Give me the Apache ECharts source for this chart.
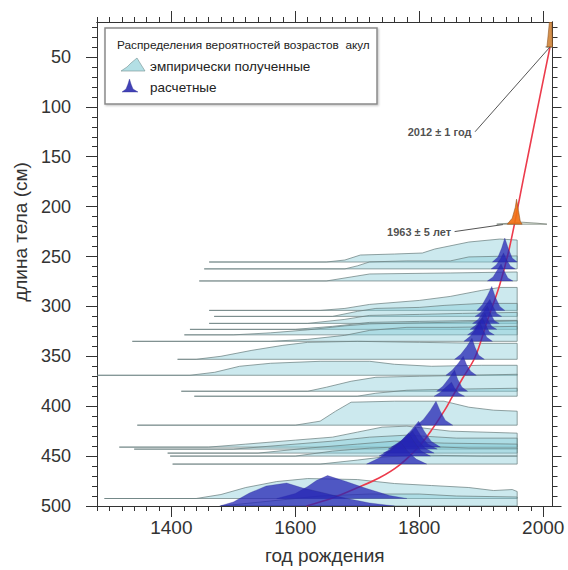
<!DOCTYPE html>
<html><head><meta charset="utf-8">
<script src="https://cdn.jsdelivr.net/npm/echarts@6/dist/echarts.min.js"></script>
<style>html,body{margin:0;padding:0;background:#fff}#c{width:568px;height:570px}</style>
</head><body><div id="c"></div>
<script>
// ---------- data ----------
const xTickLabels = [1400, 1600, 1800, 2000];
const yTickLabels = [50, 100, 150, 200, 250, 300, 350, 400, 450, 500];

const redYears   = [1618, 1660, 1699, 1735, 1768, 1800, 1822, 1840, 1852, 1870, 1890, 1910, 1930, 1946, 1970, 1990, 2011];
const redLengths = [500, 492, 482, 472, 459, 440, 422, 405, 392, 372, 351, 314, 278, 240, 166, 104, 40];

const sharkLengths = [255.5, 262.4, 274.5, 304, 310, 317, 323, 328.5, 335, 353, 369, 385, 390, 419, 441, 443, 447, 450, 458, 492.5, 500];

// empirical distributions: [birth year, height above baseline (cm)]
const empiricalCurves = [
  [[1461,0],[1650,0],[1680,2],[1705,7],[1760,8],[1805,9],[1825,13],[1880,20],[1930,23],[1958,22]],
  [[1453,0],[1680,0],[1700,3],[1720,7],[1780,8],[1850,8],[1880,12],[1958,13]],
  [[1445,0],[1650,0],[1690,4],[1720,7],[1850,8],[1958,9]],
  [[1461,0],[1640,0],[1680,2],[1720,6],[1800,10],[1850,14],[1900,20],[1930,23],[1958,23]],
  [[1469,0],[1660,0],[1700,5],[1730,8],[1800,9],[1840,11],[1900,13],[1958,13]],
  [[1461,0],[1620,0],[1680,4],[1720,8],[1800,9],[1870,10],[1958,11]],
  [[1430,0],[1600,0],[1660,3],[1720,7],[1800,8],[1900,9],[1958,9]],
  [[1421,0],[1500,0],[1560,2],[1620,5],[1680,9],[1720,11],[1800,12],[1880,13],[1958,14]],
  [[1337,0],[1560,0],[1620,2],[1680,6],[1720,11],[1780,14],[1850,14],[1958,15]],
  [[1410,0],[1440,0],[1480,3],[1530,9],[1580,14],[1620,17],[1700,18],[1800,17],[1900,16],[1958,16]],
  [[1280,0],[1430,0],[1470,3],[1510,9],[1560,12],[1640,14],[1720,14],[1760,11],[1820,9],[1900,10],[1958,10]],
  [[1416,0],[1620,0],[1650,4],[1690,10],[1730,14],[1800,15],[1880,16],[1958,17]],
  [[1437,0],[1700,0],[1730,3],[1780,6],[1850,7],[1958,8]],
  [[1345,0],[1600,0],[1640,4],[1665,14],[1690,23],[1760,24],[1840,24],[1880,18],[1920,15],[1958,14]],
  [[1316,0],[1460,0],[1520,3],[1600,7],[1660,10],[1700,15],[1740,20],[1780,21],[1850,16],[1958,14]],
  [[1340,0],[1500,0],[1580,4],[1660,8],[1720,12],[1780,14],[1860,11],[1958,11]],
  [[1394,0],[1540,0],[1620,5],[1700,9],[1760,12],[1840,10],[1958,9]],
  [[1398,0],[1600,0],[1660,5],[1720,8],[1800,10],[1880,8],[1958,8]],
  [[1402,0],[1640,0],[1700,4],[1740,7],[1800,9],[1900,8],[1958,8]],
  [[1292,0],[1440,0],[1480,4],[1520,11],[1570,17],[1620,20],[1700,19],[1760,15],[1820,13],[1880,11],[1920,8],[1950,9],[1958,7]],
  [[1480,0],[1560,5],[1640,10],[1720,12],[1800,12],[1860,10],[1958,9]]
];

// calculated distributions: [birth year, height above baseline (cm)]
const calculatedCurves = [
  [[1918,0],[1927,5],[1933,14],[1938,24],[1944,13],[1950,4],[1958,0]],
  [[1916,0],[1924,4],[1931,10],[1936,16],[1941,9],[1947,3],[1955,0]],
  [[1910,0],[1919,4],[1926,11],[1932,17],[1937,10],[1943,3],[1951,0]],
  [[1893,0],[1902,6],[1910,15],[1917,24],[1923,13],[1930,4],[1938,0]],
  [[1890,0],[1899,4],[1907,11],[1914,17],[1919,10],[1925,3],[1933,0]],
  [[1886,0],[1895,4],[1903,11],[1910,17],[1915,10],[1921,3],[1929,0]],
  [[1882,0],[1891,4],[1899,10],[1906,16],[1911,9],[1917,3],[1925,0]],
  [[1878,0],[1887,4],[1895,11],[1902,17],[1907,10],[1913,3],[1921,0]],
  [[1872,0],[1882,5],[1891,12],[1898,19],[1903,11],[1909,4],[1918,0]],
  [[1857,0],[1867,5],[1877,13],[1885,21],[1890,12],[1896,4],[1905,0]],
  [[1843,0],[1853,5],[1863,12],[1871,19],[1876,11],[1883,4],[1892,0]],
  [[1828,0],[1838,5],[1848,13],[1857,21],[1862,12],[1869,4],[1878,0]],
  [[1824,0],[1834,4],[1843,9],[1852,14],[1857,8],[1864,3],[1873,0]],
  [[1796,0],[1807,6],[1818,15],[1827,24],[1834,14],[1842,5],[1854,0]],
  [[1755,0],[1772,7],[1787,17],[1799,26],[1808,16],[1819,6],[1834,0]],
  [[1750,0],[1767,6],[1782,14],[1794,22],[1803,13],[1814,5],[1829,0]],
  [[1742,0],[1760,6],[1776,14],[1789,22],[1798,13],[1809,5],[1824,0]],
  [[1735,0],[1753,6],[1770,15],[1783,23],[1792,14],[1803,5],[1818,0]],
  [[1715,0],[1735,6],[1755,14],[1770,22],[1781,13],[1795,5],[1812,0]],
  [[1570,0],[1600,5],[1620,12],[1634,18],[1652,23],[1682,17],[1715,10],[1752,3],[1780,0]],
  [[1478,0],[1500,4],[1526,13],[1553,20],[1586,23],[1612,18],[1640,14],[1680,8],[1720,3],[1760,0]]
];

// dated (bomb radiocarbon) sharks
const datedLengths = [217.6, 40];
const datedBaselines = [
  [[1925,0],[1945,1],[1965,2],[1990,1],[2006,0]],
  [[2004,0],[2015,0]]
];
const datedCurves = [
  [[1942,0],[1950,6],[1955,17],[1957,25],[1960,14],[1963,3],[1966,0]],
  [[2006,0],[2008,12],[2010,25],[2014,25],[2015,0]]
];

const annotationTexts = ['2012 ± 1 год', '1963 ± 5 лет'];
const annotation2012 = [[1890, 125], [2011, 40]];
const annotation1963 = [[1857, 225], [1935, 218]];

const legendTitle = 'Распределения вероятностей возрастов  акул';
const legendNames = ['эмпирически полученные', 'расчетные'];
const xName = 'год рождения';
const yName = 'длина тела (см)';

// ---------- chart ----------
const X_MIN = 1280, X_MAX = 2015, Y_MIN = 15, Y_MAX = 500;
const xMinor = []; for (let v = 1280; v <= 2000; v += 20) xMinor.push(v);
const yMinor = []; for (let v = 20; v <= 500; v += 10) yMinor.push(v);
const FONT = '"Liberation Sans", Arial, sans-serif';
const AX = '#333';

function xAxisDef(pos, ticks, len, withLabels) {
  return {
    type: 'value', position: pos, min: X_MIN, max: X_MAX,
    splitLine: {show: false},
    axisLine: {show: true, onZero: false, lineStyle: {color: AX, width: 1}},
    axisTick: {show: true, inside: false, length: len, customValues: ticks, lineStyle: {color: AX, width: 1}},
    axisLabel: withLabels ? {show: true, customValues: xTickLabels, formatter: v => String(v), fontSize: 19, color: '#333', margin: 12, fontFamily: FONT} : {show: false},
    name: withLabels ? xName : '', nameLocation: 'middle', nameGap: 40,
    nameTextStyle: {fontSize: 19, color: '#333', fontFamily: FONT}
  };
}
function yAxisDef(pos, ticks, len, withLabels) {
  return {
    type: 'value', position: pos, min: Y_MIN, max: Y_MAX, inverse: true,
    splitLine: {show: false},
    axisLine: {show: true, onZero: false, lineStyle: {color: AX, width: 1}},
    axisTick: {show: true, inside: false, length: len, customValues: ticks, lineStyle: {color: AX, width: 1}},
    axisLabel: withLabels ? {show: true, customValues: yTickLabels, formatter: v => String(v), fontSize: 18, color: '#333', margin: 26, fontFamily: FONT} : {show: false}
  };
}

function polySeries(L, pts, style, z) {
  return {
    type: 'custom', z: z, silent: true, clip: true,
    xAxisIndex: 0, yAxisIndex: 0,
    data: [[pts[0][0], L]],
    renderItem: function (params, api) {
      const points = pts.map(p => api.coord([p[0], L - p[1]]));
      points.push(api.coord([pts[pts.length - 1][0], L]));
      points.push(api.coord([pts[0][0], L]));
      return {type: 'polygon', shape: {points: points}, style: style};
    }
  };
}

const series = [];
const empStyle = {fill: 'rgba(128,200,212,0.4)', stroke: 'rgba(105,125,125,0.8)', lineWidth: 0.9};
const calcStyle = {fill: 'rgba(38,38,180,0.75)', stroke: 'rgba(40,40,140,0.45)', lineWidth: 0.6};
sharkLengths.forEach((L, i) => series.push(polySeries(L, empiricalCurves[i], empStyle, 2)));
series.push({
  type: 'line', z: 3, silent: true, smooth: 0.35, symbol: 'none',
  data: redYears.map((y, i) => [y, redLengths[i]]),
  lineStyle: {color: '#ec3b4c', width: 1.6}
});
sharkLengths.forEach((L, i) => series.push(polySeries(L, calculatedCurves[i], calcStyle, 4)));
datedLengths.forEach((L, i) => {
  series.push(polySeries(L, datedBaselines[i], {fill: 'rgba(200,220,190,0.4)', stroke: 'rgba(110,120,110,0.8)', lineWidth: 0.9}, 5));
  series.push(polySeries(L, datedCurves[i], {fill: i === 0 ? 'rgba(240,112,20,0.92)' : 'rgba(205,125,45,0.85)', stroke: 'rgba(140,80,30,0.8)', lineWidth: 0.7}, 6));
});
[annotation2012, annotation1963].forEach((pts, i) => {
  series.push({
    type: 'line', z: 7, silent: true, symbol: 'none',
    lineStyle: {color: '#555', width: 1},
    data: pts
  });
  series.push({
    type: 'scatter', z: 8, silent: true, symbol: 'circle', symbolSize: 1,
    itemStyle: {color: 'rgba(0,0,0,0)'},
    data: [pts[0]],
    label: {show: true, position: 'left', distance: 3, formatter: annotationTexts[i], fontSize: 11, fontWeight: 'bold', color: '#222', fontFamily: FONT}
  });
});

const chart = echarts.init(document.getElementById('c'), null, {renderer: 'svg'});
chart.setOption({
  animation: false,
  backgroundColor: '#fff',
  grid: {left: 97, right: 15.5, top: 22, bottom: 62, containLabel: false},
  xAxis: [
    xAxisDef('bottom', xMinor, 5, false),
    xAxisDef('bottom', xTickLabels, 11, true),
    xAxisDef('top', xMinor, 5, false),
    xAxisDef('top', xTickLabels, 11, false)
  ],
  yAxis: [
    yAxisDef('left', yMinor, 5, false),
    yAxisDef('left', yTickLabels, 11, true),
    yAxisDef('right', yMinor, 5, false),
    yAxisDef('right', yTickLabels, 9, false)
  ],
  series: series,
  graphic: [
    {type: 'text', x: 20, y: 232, rotation: Math.PI / 2,
     style: {text: yName, font: '19px ' + FONT, fill: '#333', align: 'center', verticalAlign: 'middle'}},
    {type: 'rect', z: 100, shape: {x: 105, y: 28, width: 272, height: 76},
     style: {fill: '#fff', stroke: '#8a8a8a', lineWidth: 1.5, shadowBlur: 2, shadowColor: 'rgba(0,0,0,0.25)', shadowOffsetX: 1, shadowOffsetY: 1}},
    {type: 'text', z: 101, x: 117, y: 45,
     style: {text: legendTitle, font: '11.8px ' + FONT, fill: '#222', verticalAlign: 'middle'}},
    {type: 'polygon', z: 101, shape: {points: [[121, 71], [127, 67], [131, 63], [137, 58], [140, 63], [145, 71]]},
     style: {fill: 'rgba(160,215,222,0.8)', stroke: 'rgba(120,150,150,0.8)', lineWidth: 0.8}},
    {type: 'text', z: 101, x: 150, y: 66,
     style: {text: legendNames[0], font: '13.5px ' + FONT, fill: '#222', verticalAlign: 'middle'}},
    {type: 'polygon', z: 101, shape: {points: [[122, 92], [126, 89], [128, 84], [129.5, 79], [131, 84], [133, 89], [138, 92]]},
     style: {fill: 'rgba(45,45,175,0.9)', stroke: 'rgba(40,40,140,0.6)', lineWidth: 0.6}},
    {type: 'text', z: 101, x: 150, y: 87,
     style: {text: legendNames[1], font: '13.5px ' + FONT, fill: '#222', verticalAlign: 'middle'}}
  ]
});
</script>
</body></html>
